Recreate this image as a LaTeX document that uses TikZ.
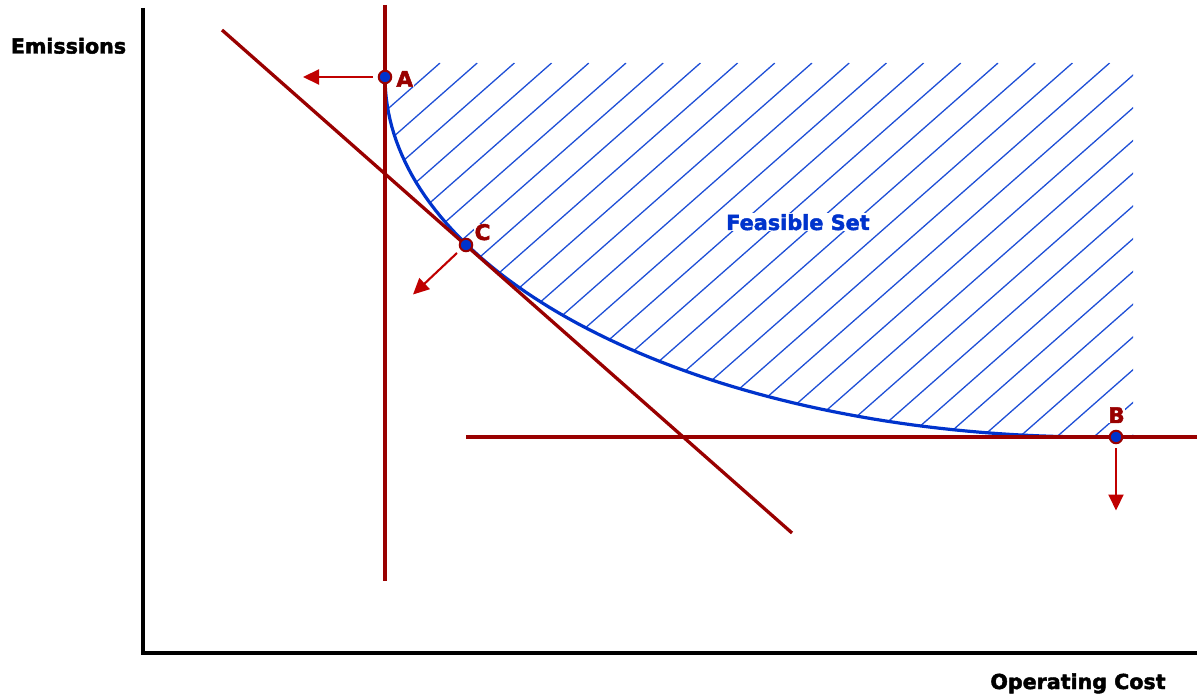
\documentclass[tikz,border=0pt]{standalone}
\usepackage{fontspec}
\setmainfont{DejaVu Sans}[BoldFeatures={FakeBold=2.2}]
\usetikzlibrary{arrows.meta}
\definecolor{dred}{HTML}{990000}
\definecolor{ared}{HTML}{C00000}
\definecolor{fblue}{HTML}{0033CC}
\definecolor{hblue}{HTML}{1F4FD6}
\tikzset{
 axisline/.style={line width=3.2pt, black},
 redline/.style={line width=3.3pt, dred},
 movearrow/.style={line width=2.1pt, ared, -{Triangle[length=16pt,width=15pt]}},
 ptdot/.style={circle, fill=fblue, draw=dred, line width=2pt, minimum size=12.5pt, inner sep=0pt},
 ptlabel/.style={font=\bfseries\fontsize{21.5}{20}\selectfont, text=dred, fill=white, inner sep=0.5pt, anchor=base},
 axislabel/.style={font=\bfseries\fontsize{20.6}{20}\selectfont, text=black, anchor=base},
 setlabel/.style={font=\bfseries\fontsize{20.8}{20}\selectfont, text=fblue, fill=white, inner sep=1pt, anchor=base},
 frontier/.style={line width=3.2pt, fblue},
 hatch/.style={line width=1.3pt, hblue},
}
\begin{document}
\begin{tikzpicture}[x=1pt,y=-1pt]
\useasboundingbox (0,0) rectangle (1197,700);
% hatching of the feasible set
\begin{scope}
\clip (385,63) -- (1133,63) -- (1133,437)
  -- plot[domain=90:180, samples=80] ({1095+710*cos(\x)},{77+360*sin(\x)}) -- cycle;
\foreach \k in {0,...,31} {
  \draw[hatch] ({440+37.2*\k},63) -- ++(-560,492.8);
}
\end{scope}
% labels with white background
\node[setlabel] (fs) at (798,230) {Feasible Set};
\node[ptlabel] (la) at (404.7,86.7) {A};
\node[ptlabel] (lc) at (482.5,240) {C};
\node[ptlabel] (lb) at (1116.5,423) {B};
% axes
\coordinate (ytop) at (143,8);
\coordinate (orig) at (143,653);
\coordinate (xend) at (1197,653);
\draw[axisline] (ytop) -- (orig) -- (xend);
\node[axislabel] (ylab) at (68.5,53.5) {Emissions};
\node[axislabel] (xlab) at (1078,689) {Operating Cost};
% frontier curve
\draw[frontier] plot[domain=180:90, samples=80] ({1095+710*cos(\x)},{77+360*sin(\x)});
% red lines
\coordinate (vtop) at (385,5);
\coordinate (vbot) at (385,581);
\coordinate (dtop) at (222,30);
\coordinate (dbot) at (792,533);
\coordinate (hleft) at (466,437);
\coordinate (hright) at (1197,437);
\draw[redline] (vtop) -- (vbot);
\draw[redline] (dtop) -- (dbot);
\draw[redline] (hleft) -- (hright);
% arrows
\coordinate (a0) at (373,77);
\coordinate (a1) at (303,77);
\coordinate (c0) at (457,253);
\coordinate (c1) at (413,294.5);
\coordinate (b0) at (1116,448);
\coordinate (b1) at (1116,510.5);
\draw[movearrow] (a0) -- (a1);
\draw[movearrow] (c0) -- (c1);
\draw[movearrow] (b0) -- (b1);
% points
\node[ptdot] (A) at (385,77) {};
\node[ptdot] (C) at (466,245) {};
\node[ptdot] (B) at (1116,437) {};
\end{tikzpicture}
\end{document}
